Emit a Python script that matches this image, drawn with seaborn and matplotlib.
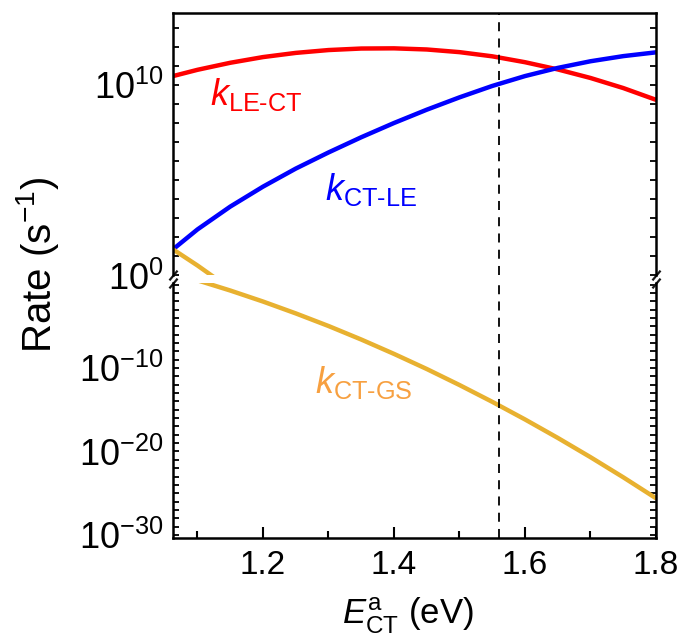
import numpy as np
import pandas as pd
import matplotlib
matplotlib.use("Agg")
import matplotlib.pyplot as plt
from matplotlib.ticker import FixedLocator, NullFormatter
import seaborn as sns

# energies (eV) and log10 of the rates
energy = [1.0626, 1.10, 1.15, 1.20, 1.25, 1.30, 1.35, 1.40, 1.45,
          1.50, 1.55, 1.60, 1.65, 1.70, 1.75, 1.80]
log_k_le_ct = [10.47, 10.80, 11.17, 11.47, 11.69, 11.84, 11.92, 11.93, 11.87,
               11.73, 11.51, 11.20, 10.82, 10.37, 9.84, 9.22]
log_k_ct_le = [1.35, 2.40, 3.60, 4.65, 5.60, 6.45, 7.25, 8.00, 8.70,
               9.35, 9.95, 10.47, 10.90, 11.25, 11.52, 11.72]
log_k_ct_gs = [1.35, 0.50, -0.72, -2.04, -3.46, -4.97, -6.59, -8.31, -10.12,
               -12.04, -14.05, -16.16, -18.37, -20.68, -23.09, -25.60]
e_marker = 1.56

df = pd.DataFrame({
    "E": energy * 3,
    "rate": 10.0 ** np.array(log_k_le_ct + log_k_ct_le + log_k_ct_gs),
    "series": ["LE-CT"] * len(energy) + ["CT-LE"] * len(energy) + ["CT-GS"] * len(energy),
})
colors = {"LE-CT": "#ff0000", "CT-LE": "#0000ff", "CT-GS": "#e8b130"}

sns.set_theme(style="ticks")
plt.rcParams["font.family"] = ["Liberation Sans", "DejaVu Sans"]
plt.rcParams["mathtext.fontset"] = "custom"
plt.rcParams["mathtext.rm"] = "Liberation Sans"
plt.rcParams["mathtext.it"] = "Liberation Sans:italic"
plt.rcParams["mathtext.bf"] = "Liberation Sans:bold"
for key in ["text.color", "axes.labelcolor", "xtick.color", "ytick.color", "axes.edgecolor"]:
    plt.rcParams[key] = "black"

fig = plt.figure(figsize=(6.85, 6.42), dpi=100)
W, H = 685, 642
left, right = 173, 656
ax_top = fig.add_axes([left / W, 1 - 275 / H, (right - left) / W, (275 - 13) / H])
ax_bot = fig.add_axes([left / W, 1 - 538 / H, (right - left) / W, (538 - 283) / H])

for ax in (ax_top, ax_bot):
    sns.lineplot(data=df, x="E", y="rate", hue="series", palette=colors,
                 linewidth=3.2, ax=ax, legend=False, sort=False)
    ax.set_yscale("log")
    ax.set_xlim(1.0626, 1.8)
    ax.axvline(e_marker, color="black", lw=1.3, dashes=(5, 4))
    ax.set_xlabel("")
    ax.set_ylabel("")
    for s in ax.spines.values():
        s.set_linewidth(1.8)
        s.set_color("black")
    ax.yaxis.set_minor_formatter(NullFormatter())
    ax.tick_params(axis="y", which="both", direction="in", left=True, right=True,
                   length=4, width=1.3, labelsize=26, pad=7)

# top panel
ax_top.set_ylim(1.0, 10 ** 13.79)
ax_top.spines["bottom"].set_visible(False)
ax_top.set_yticks([1e10])
ax_top.set_yticklabels([r"$10^{10}$"])
ax_top.yaxis.set_minor_locator(FixedLocator(10.0 ** np.arange(0, 14)))
ax_top.tick_params(axis="x", which="both", bottom=False, top=False, labelbottom=False)
ax_top.annotate(r"$10^{0}$", xy=(0, 0), xycoords="axes fraction", xytext=(-7, -3.5),
                textcoords="offset points", ha="right", va="center", fontsize=26)

# bottom panel
ax_bot.set_ylim(10 ** -30.36, 10 ** 0.18)
ax_bot.spines["top"].set_visible(False)
ax_bot.set_yticks([1e-30, 1e-20, 1e-10])
ax_bot.set_yticklabels([r"$10^{-30}$", r"$10^{-20}$", r"$10^{-10}$"])
ax_bot.yaxis.set_minor_locator(FixedLocator(10.0 ** np.arange(-30, 1)))
ax_bot.set_xticks([1.2, 1.4, 1.6, 1.8])
ax_bot.set_xticklabels(["1.2", "1.4", "1.6", "1.8"])
ax_bot.xaxis.set_minor_locator(FixedLocator([1.1, 1.3, 1.5, 1.7]))
ax_bot.tick_params(axis="x", which="major", direction="in", length=8, width=1.5,
                   labelsize=24, pad=9, top=False)
ax_bot.tick_params(axis="x", which="minor", direction="in", length=5, width=1.5, top=False)

# break marks
brk = dict(marker=[(-1, -1.2), (1, 1.2)], markersize=7, linestyle="none",
           color="k", mec="k", mew=1.6, clip_on=False)
ax_top.plot([0, 1], [0, 0], transform=ax_top.transAxes, **brk)
ax_bot.plot([0, 1], [1, 1], transform=ax_bot.transAxes, **brk)

# curve labels
ax_top.text(1.119, 10 ** 8.95, r"$k_{\text{LE-CT}}$", color="#ff0000", fontsize=26,
            va="baseline")
ax_top.text(1.294, 10 ** 3.95, r"$k_{\text{CT-LE}}$", color="#0000ff", fontsize=26,
            va="baseline")
ax_bot.text(1.279, 10 ** -13.0, r"$k_{\text{CT-GS}}$", color="#f7a040", fontsize=26,
            va="baseline")

fig.text(38 / W, 1 - 265 / H, r"Rate (s$^{-1}$)", rotation=90, ha="center",
         va="center", fontsize=29)
fig.text(408 / W, 1 - 616 / H, r"$E_{\mathrm{CT}}^{\mathrm{a}}$ (eV)", ha="center",
         va="center", fontsize=25)

fig.savefig("out.png", dpi=100)
